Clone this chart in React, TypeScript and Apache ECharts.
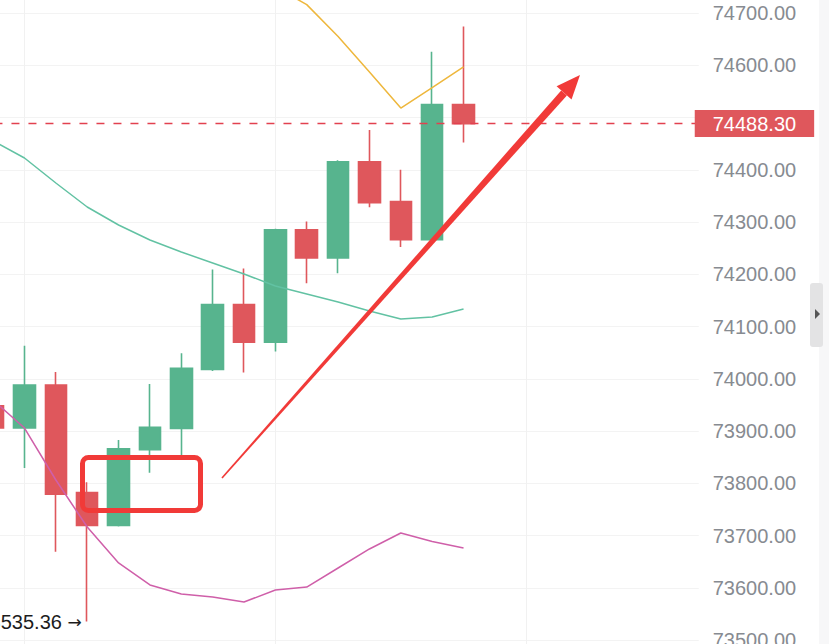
import React, { useEffect, useRef } from "react";
import * as echarts from "echarts";

// ---- data ----
const categories = ["1","2","3","4","5","6","7","8","9","10","11","12","13","14","15","16","17","18","19","20","21","22","23"];
const opens  = [73948, 73906, 73988, 73782, 73719, 73864, 73905, 74018, 74142, 74070, 74285, 74231, 74415, 74339, 74266, 74525];
const closes = [73906, 73988, 73779, 73719, 73866, 73907, 74020, 74142, 74070, 74285, 74231, 74415, 74337, 74266, 74525, 74488.3];
const lows   = [73880, 73829, 73669, 73535.36, 73717, 73820, 73854, 74015, 74012, 74052, 74183, 74202, 74328, 74252, 74263, 74452];
const highs  = [73975, 74063, 74013, 73802, 73883, 73990, 74049, 74209, 74211, 74287, 74301, 74418, 74476, 74400, 74626, 74674];
const bollMid   = [74455, 74422.5, 74374.6, 74328.7, 74294.3, 74265.6, 74242.6, 74221.5, 74200.5, 74177.5, 74162.2, 74146.9, 74129.7, 74114.4, 74118.2, 74133.5];
const bollUpper = [74950, 74940, 74945, 74940, 74940, 74925, 74895, 74860, 74830, 74750, 74716, 74655, 74587, 74518, 74557, 74597];
const bollLower = [73959.3, 73905.7, 73806.2, 73716.3, 73647.4, 73605.3, 73588.1, 73582.3, 73572.7, 73595.7, 73601.4, 73637.8, 73674.2, 73704.8, 73688.5, 73676.1];
const lastPrice = 74488.3;
const hiddenTick = 74500; // covered by the last-price tag in the reference
const lowestPrice = 73535.36;
const lowestIndex = 3;
const gridLineCats = ["2", "10", "18"];

const OFF = 40; // chart div offset (px) beyond the page's top-left
const P = (x: number, y: number) => [x + OFF, y + OFF];

export default function App() {
  const ref = useRef<HTMLDivElement>(null);
  useEffect(() => {
    if (!ref.current) return;
    const chart = echarts.init(ref.current, undefined, { renderer: "svg" });
    const font = "'Liberation Sans', Arial, sans-serif";
    const candleData = opens.map((o, i) => [o, closes[i], lows[i], highs[i]]);

    // arrow geometry (annotation)
    const s = P(222, 478);
    const tip = P(580, 75);
    const dx = tip[0] - s[0], dy = tip[1] - s[1];
    const len = Math.hypot(dx, dy);
    const ux = dx / len, uy = dy / len;
    const px = -uy, py = ux;
    const headLen = 24, headHalf = 10;
    const base = [tip[0] - ux * headLen, tip[1] - uy * headLen];
    const w0 = 0.8, w1 = 3.8;

    chart.setOption({
      animation: false,
      backgroundColor: "#ffffff",
      grid: { left: 17.46, top: 0.75, width: 721.28, height: 731.5, outerBoundsMode: "none", containLabel: false },
      xAxis: {
        type: "category",
        data: categories,
        boundaryGap: true,
        axisLine: { show: false },
        axisTick: { show: false },
        axisLabel: { show: false },
        splitLine: { show: false },
      },
      yAxis: {
        type: "value",
        position: "right",
        min: 73400,
        max: 74800,
        interval: 100,
        axisLine: { show: false },
        axisTick: { show: false },
        axisLabel: {
          margin: 14,
          color: "#878b91",
          fontSize: 20,
          fontFamily: font,
          formatter: (v: number) => (v === hiddenTick ? "" : v.toFixed(2)),
        },
        splitLine: { lineStyle: { color: "#f3f3f3", width: 1 } },
      },
      series: [
        {
          type: "line",
          data: [],
          z: 0,
          silent: true,
          markLine: {
            z: 0,
            silent: true,
            symbol: "none",
            label: { show: false },
            lineStyle: { color: "#f1f1f1", type: "solid", width: 1 },
            data: gridLineCats.map((c) => ({ xAxis: c })),
          },
        },
        {
          type: "candlestick",
          data: candleData,
          barWidth: 22,
          itemStyle: {
            color: "#57b48e",
            color0: "#df575c",
            borderColor: "#57b48e",
            borderColor0: "#df575c",
            borderWidth: 1.6,
          },
          markLine: {
            silent: true,
            symbol: "none",
            data: [
              {
                yAxis: lastPrice,
                lineStyle: { color: "#e2414f", type: [8, 9], width: 1.4, opacity: 1 },
                label: {
                  show: true,
                  position: "end",
                  distance: -4,
                  formatter: lastPrice.toFixed(2),
                  color: "#ffffff",
                  backgroundColor: "#df575c",
                  fontSize: 20,
                  fontFamily: font,
                  lineHeight: 22,
                  padding: [3, 18, 2, 18],
                },
              },
            ],
          },
          markPoint: {
            symbol: "circle",
            symbolSize: 1,
            itemStyle: { color: "rgba(0,0,0,0)" },
            label: {
              show: true,
              position: "left",
              distance: 5,
              formatter: lowestPrice.toFixed(2) + " {a|\u2192}",
              color: "#1c1c1c",
              fontSize: 20,
              fontFamily: font,
              rich: { a: { fontFamily: "'DejaVu Sans', sans-serif", fontSize: 17, color: "#1c1c1c" } },
            },
            data: [{ coord: [categories[lowestIndex], lowestPrice] }],
          },
        },
        {
          type: "line",
          data: bollMid,
          showSymbol: false,
          lineStyle: { color: "#62c2a3", width: 1.5 },
        },
        {
          type: "line",
          data: bollUpper,
          showSymbol: false,
          lineStyle: { color: "#eeb73c", width: 1.5 },
        },
        {
          type: "line",
          data: bollLower,
          showSymbol: false,
          lineStyle: { color: "#cf5fa9", width: 1.5 },
        },
      ],
      graphic: [
        // right scrollbar strip
        { type: "rect", shape: { x: 819 + OFF, y: 0, width: 20, height: 800 }, style: { fill: "#f7f7f8" }, z: 100 },
        { type: "rect", shape: { x: 810 + OFF, y: 283 + OFF, width: 13, height: 64, r: 3 }, style: { fill: "#e3e3e4" }, z: 101 },
        { type: "polygon", shape: { points: [P(815, 309), P(815, 319), P(820, 314)] }, style: { fill: "#555555" }, z: 102 },
        // red rounded rectangle annotation
        {
          type: "rect",
          shape: { x: 82.5 + OFF, y: 457.5 + OFF, width: 118, height: 53, r: 6 },
          style: { fill: "none", stroke: "#f13a38", lineWidth: 5 },
          z: 110,
        },
        // red arrow shaft
        {
          type: "polygon",
          shape: {
            points: [
              [s[0] + px * w0, s[1] + py * w0],
              [base[0] + px * w1, base[1] + py * w1],
              [base[0] - px * w1, base[1] - py * w1],
              [s[0] - px * w0, s[1] - py * w0],
            ],
          },
          style: { fill: "#f13a38" },
          z: 110,
        },
        // red arrow head
        {
          type: "polygon",
          shape: {
            points: [
              tip,
              [base[0] + px * headHalf, base[1] + py * headHalf],
              [base[0] - px * headHalf, base[1] - py * headHalf],
            ],
          },
          style: { fill: "#f13a38" },
          z: 110,
        },
      ],
    });
    return () => chart.dispose();
  }, []);

  return (
    <div style={{ position: "fixed", left: 0, top: 0, width: 829, height: 644, overflow: "hidden", background: "#fff" }}>
      <div ref={ref} style={{ position: "absolute", left: -OFF, top: -OFF, width: 829 + OFF, height: 644 + 96 }} />
    </div>
  );
}
